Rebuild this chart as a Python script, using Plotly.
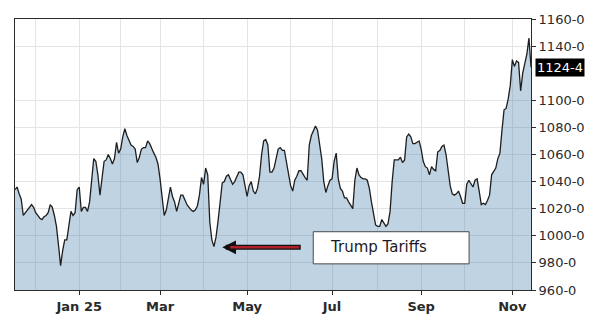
import pandas as pd
import plotly.graph_objects as go

# Daily closes, one list per calendar month (trading days only)
nov_2024 = [1034, 1036, 1031, 1027, 1015, 1017, 1019, 1021, 1023, 1021]
dec_2024 = [1017, 1015, 1013, 1012, 1014, 1015, 1017, 1023, 1021, 1015,
            1007, 993, 978, 989, 997, 997, 1008, 1018, 1015, 1017, 1034]
jan_2025 = [1036, 1018, 1021, 1021, 1018, 1025, 1042, 1057, 1055, 1045,
            1030, 1042, 1055, 1056, 1060, 1057, 1053, 1057, 1069, 1061]
feb_2025 = [1064, 1073, 1079, 1074, 1071, 1067, 1066, 1064, 1054, 1058,
            1064, 1065, 1065, 1070, 1068, 1064, 1061, 1058, 1053]
mar_2025 = [1042, 1028, 1015, 1019, 1029, 1036, 1029, 1025, 1018, 1024,
            1030, 1030, 1026, 1023, 1021, 1019, 1018, 1019, 1022, 1030, 1043]
apr_2025 = [1038, 1050, 1045, 1010, 997, 992, 999, 1011, 1025, 1039,
            1040, 1044, 1045, 1041, 1038, 1040, 1044, 1047, 1047, 1045, 1037]
may_2025 = [1029, 1037, 1040, 1033, 1031, 1035, 1044, 1060, 1070, 1071,
            1067, 1047, 1047, 1050, 1056, 1064, 1065, 1063, 1063, 1054, 1047]
jun_2025 = [1037, 1033, 1041, 1044, 1048, 1048, 1045, 1043, 1041, 1067,
            1074, 1078, 1081, 1078, 1068, 1057, 1040, 1032, 1037, 1041]
jul_2025 = [1042, 1055, 1061, 1042, 1035, 1033, 1028, 1028, 1025, 1022,
            1020, 1041, 1050, 1045, 1043, 1042, 1042, 1041, 1035, 1025,
            1016, 1008]
aug_2025 = [1007, 1007, 1012, 1009, 1007, 1009, 1018, 1040, 1056, 1056,
            1056, 1058, 1054, 1056, 1073, 1075, 1073, 1068, 1068, 1069, 1070]
sep_2025 = [1064, 1055, 1051, 1050, 1045, 1051, 1049, 1048, 1062, 1063,
            1066, 1067, 1060, 1050, 1037, 1031, 1030, 1031, 1033, 1029, 1024]
oct_2025 = [1024, 1038, 1041, 1038, 1036, 1041, 1042, 1033, 1023, 1024,
            1023, 1026, 1030, 1045, 1048, 1050, 1057, 1061, 1078, 1093,
            1094, 1101, 1111]
nov_2025 = [1130, 1125, 1129, 1128, 1107, 1120, 1127, 1134, 1146, 1124.4]

closes = (nov_2024 + dec_2024 + jan_2025 + feb_2025 + mar_2025 + apr_2025
          + may_2025 + jun_2025 + jul_2025 + aug_2025 + sep_2025 + oct_2025
          + nov_2025)

market_holidays = ["2024-11-28", "2024-12-25", "2025-01-01", "2025-01-09",
                   "2025-01-20", "2025-02-17", "2025-04-18", "2025-05-26",
                   "2025-06-19", "2025-07-04", "2025-09-01"]

first_day = "2024-11-15"
last_day = "2025-11-14"
dates = pd.bdate_range(first_day, last_day, freq="C", holidays=market_holidays)
assert len(dates) == len(closes), (len(dates), len(closes))

# Month boundaries: first trading session of each month
label_months = ["2025-01-02", "2025-03-03", "2025-05-01", "2025-07-01",
                "2025-09-02", "2025-11-03"]
label_texts = ["Jan 25", "Mar", "May", "Jul", "Sep", "Nov"]
grid_months = ["2024-12-02", "2025-02-03", "2025-04-01", "2025-06-02",
               "2025-08-01", "2025-10-01"]
price_ticks = [960, 980, 1000, 1020, 1040, 1060, 1080, 1100, 1140, 1160]
price_labels = [f"{v}-0" for v in price_ticks]

last_close = closes[-1]
last_label = f"{last_close:.1f}".replace(".", "-")

event_text = "Trump Tariffs"
event_date = "2025-04-14"
event_level = 991.5

axis_font = "DejaVu Sans"
frame = "#2b2b2b"
grid = "#e4e4e4"

fig = go.Figure()
fig.add_trace(go.Scatter(
    x=dates, y=closes, mode="lines",
    line=dict(color="#1e1e1e", width=1.3),
    fill="tozeroy", fillcolor="rgba(72,128,176,0.35)",
    hoverinfo="skip", showlegend=False,
))

fig.update_layout(
    width=600, height=326,
    margin=dict(l=15, r=69, t=18, b=32),
    paper_bgcolor="white", plot_bgcolor="white",
    font=dict(family=axis_font, color="#222"),
    xaxis=dict(
        type="date",
        range=[first_day, last_day],
        rangebreaks=[dict(bounds=["sat", "mon"]), dict(values=market_holidays)],
        tickmode="array", tickvals=label_months, ticktext=label_texts,
        tickfont=dict(family=axis_font, size=13, color="#2a2a2a", weight="bold"),
        ticks="outside", ticklen=4, tickcolor=frame,
        showgrid=True, gridcolor=grid, gridwidth=1,
        minor=dict(tickmode="array", tickvals=grid_months, showgrid=True,
                   gridcolor=grid, gridwidth=1, ticks=""),
        showline=True, linecolor=frame, linewidth=1, mirror=True,
        zeroline=False,
    ),
    yaxis=dict(
        side="right",
        range=[960, 1160],
        tickmode="array", tickvals=price_ticks, ticktext=price_labels,
        tickfont=dict(family=axis_font, size=13, color="#2a2a2a"),
        ticks="outside", ticklen=4, tickcolor=frame,
        showgrid=True, gridcolor=grid, gridwidth=1,
        showline=True, linecolor=frame, linewidth=1, mirror=True,
        zeroline=False,
    ),
)

# Current value marker on the price axis
fig.add_annotation(
    x=1, xref="paper", xanchor="left", xshift=4,
    y=last_close, yref="y", yanchor="middle",
    text=last_label, showarrow=False,
    font=dict(family=axis_font, size=13, color="white"),
    bgcolor="black", borderpad=1,
)

# Event callout: outlined arrow pointing at the April low
fig.add_annotation(
    x=event_date, y=event_level, xref="x", yref="y",
    text="", showarrow=True, ax=80, ay=0,
    arrowhead=2, arrowsize=0.55, arrowwidth=5, arrowcolor="#111",
)
fig.add_annotation(
    x=event_date, y=event_level, xref="x", yref="y",
    text="", showarrow=True, ax=78.5, ay=0, standoff=8,
    arrowhead=0, arrowwidth=2.4, arrowcolor="#b0202a",
)
fig.add_shape(
    type="rect", xref="paper", yref="y",
    x0=0.578, x1=0.880, y0=979.3, y1=1003.0,
    line=dict(color="#4a4a4a", width=1), fillcolor="white", layer="above",
)
fig.add_annotation(
    x=0.606, xref="paper", xanchor="left",
    y=event_level, yref="y", yanchor="middle",
    text=event_text, showarrow=False,
    font=dict(family=axis_font, size=15, color="#1a1a28"),
)

fig.write_html("out.html")
